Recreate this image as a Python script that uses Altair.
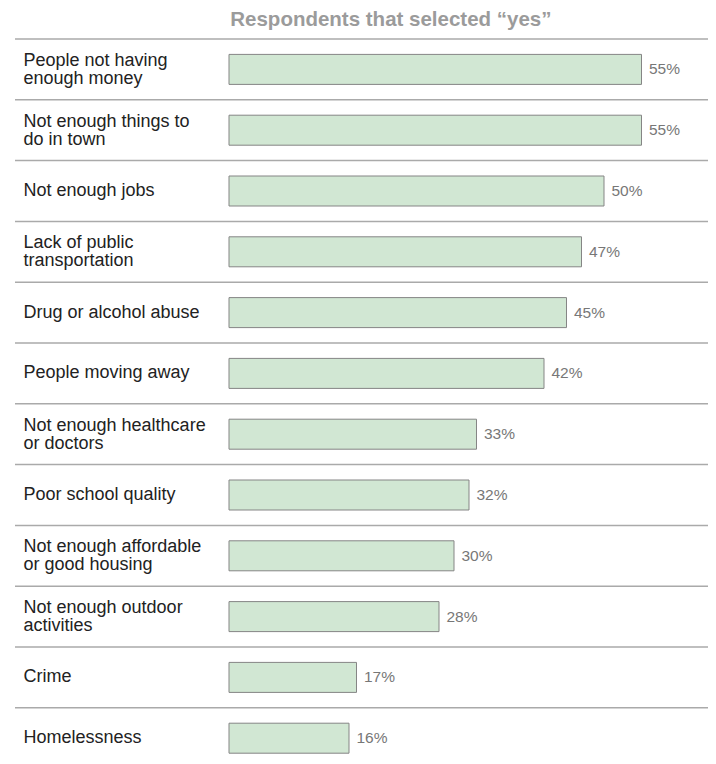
import altair as alt
import pandas as pd

categories = [
    "People not having\nenough money",
    "Not enough things to\ndo in town",
    "Not enough jobs",
    "Lack of public\ntransportation",
    "Drug or alcohol abuse",
    "People moving away",
    "Not enough healthcare\nor doctors",
    "Poor school quality",
    "Not enough affordable\nor good housing",
    "Not enough outdoor\nactivities",
    "Crime",
    "Homelessness",
]
values = [55, 55, 50, 47, 45, 42, 33, 32, 30, 28, 17, 16]
title_text = "Respondents that selected \u201cyes\u201d"

df = pd.DataFrame({
    "cat": categories,
    "val": values,
    "lab": [f"{v}%" for v in values],
    "two": ["\n" in c for c in categories],
})

FONT = "Liberation Sans"
LH = 18

yscale = alt.Scale(range=[0, 729.6], paddingInner=0, paddingOuter=0)
y = alt.Y("cat:N", sort=categories, axis=None, scale=yscale)
xs = alt.Scale(domain=[0, 60], range=[214, 664])

base = alt.Chart(df)

rules = base.mark_rule(color="#aaaaaa", strokeWidth=1.5).encode(
    y=alt.Y("cat:N", sort=categories, axis=None, bandPosition=0, scale=yscale),
    x=alt.value(0),
    x2=alt.value(693),
)

bars = base.mark_bar(size=30, fill="#d1e7d3", stroke="#858585", strokeWidth=1).encode(
    y=y,
    x=alt.X("val:Q", scale=xs, axis=None),
)

values_text = base.mark_text(align="left", baseline="middle", dx=7.5,
                             font=FONT, fontSize=15.5, color="#777777").encode(
    y=y,
    x=alt.X("val:Q", scale=xs, axis=None),
    text="lab:N",
)

labels_one = base.transform_filter("!datum.two").mark_text(
    align="left", baseline="middle", font=FONT, fontSize=18,
    color="#222222").encode(
    y=y,
    x=alt.value(8.5),
    text="cat:N",
)

labels_two = base.transform_filter("datum.two").mark_text(
    align="left", baseline="middle", lineBreak="\n", lineHeight=LH,
    dy=-8.5, font=FONT, fontSize=18, color="#222222").encode(
    y=y,
    x=alt.value(8.5),
    text="cat:N",
)

chart = alt.layer(rules, bars, values_text, labels_one, labels_two).properties(
    width=693,
    height=717,
    padding={"left": 7, "top": 31, "right": 0, "bottom": 0},
    autosize="none",
    title=alt.TitleParams(title_text, anchor="start", dx=216, offset=8,
                          font=FONT, fontSize=20.5, fontWeight="bold",
                          color="#9b9b9b"),
).configure_view(strokeWidth=0)

chart.save("out.html", embed_options={"renderer": "svg", "actions": False})
